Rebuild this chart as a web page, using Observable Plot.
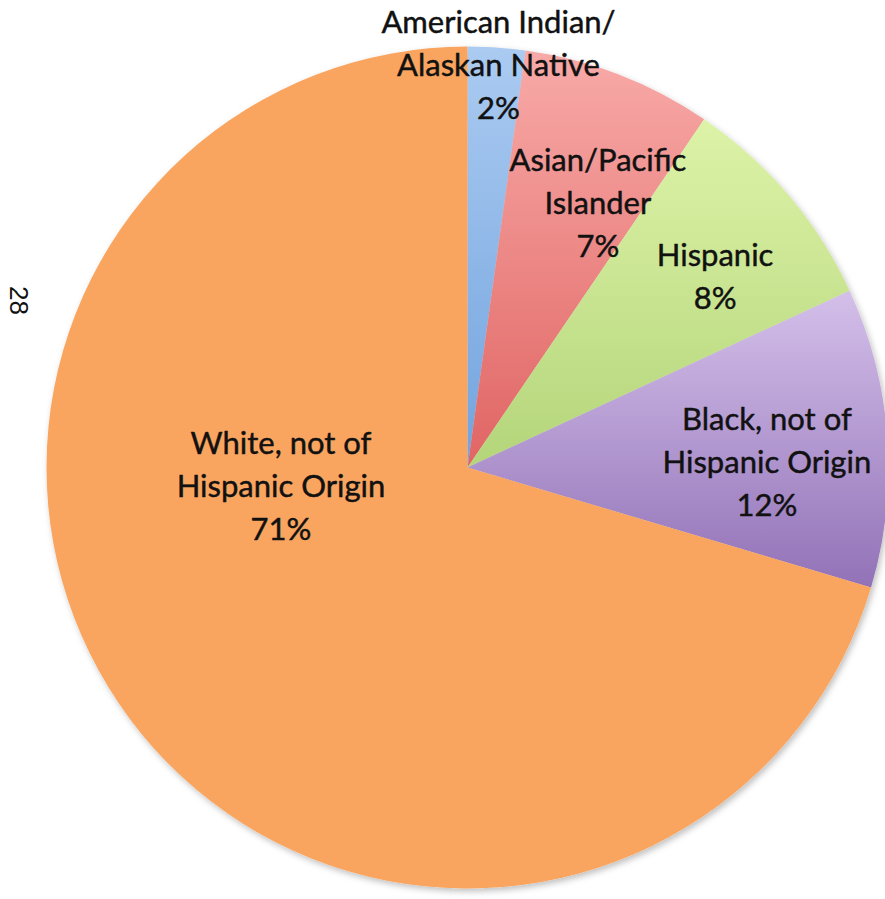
<!DOCTYPE html>
<html>
<head>
<meta charset="utf-8">
<script src="https://cdn.jsdelivr.net/npm/d3@7"></script>
<script src="https://cdn.jsdelivr.net/npm/@observablehq/plot@0.6"></script>
<style>
  html, body { margin: 0; padding: 0; background: #fff; }
  #wrap { position: relative; width: 885px; height: 899px; overflow: hidden; }
  #page { position: absolute; left: 4px; top: 285px; font-family: "Liberation Sans", Arial, sans-serif; font-size: 26px; color: #111; transform: rotate(90deg); transform-origin: center; }
</style>
</head>
<body>
<div id="wrap">
  <div id="chart"></div>
  <div id="page">28</div>
</div>
<script>
// Data
const categories = ["American Indian/\nAlaskan Native", "Asian/Pacific\nIslander", "Hispanic", "Black, not of\nHispanic Origin", "White, not of\nHispanic Origin"];
const values = [2.2, 7.3, 8.6, 11.5, 70.4];
const percentLabels = ["2%", "7%", "8%", "12%", "71%"];
const gradTop = ["#abcbf1", "#f8aaa8", "#ddf3a8", "#d4c0ea", "#f9a560"];
const gradBottom = ["#72a3de", "#e06563", "#b4d57a", "#9272b7", "#f9a560"];
// Label placement (layout): radius fraction and angular shift (deg) from slice mid-angle
const labelRadius = [0.953, 0.695, 0.738, 0.71, 0.447];
const labelShift = [0.4, 5.3, 3.0, 3.6, 30.3];

const pie = d3.pie().sort(null).value(d => d)(values);
const rows = categories.map((c, i) => {
  const mid = (pie[i].startAngle + pie[i].endAngle) / 2 + labelShift[i] * Math.PI / 180;
  return {
    i,
    text: c + "\n" + percentLabels[i],
    lx: labelRadius[i] * Math.sin(mid),
    ly: labelRadius[i] * Math.cos(mid)
  };
});

function pieMark(index, scales, values_, dims) {
  const {x, y} = scales;
  const cx = x(0), cy = y(0), r = x(1) - x(0);
  const g = d3.create("svg:g");
  const defs = g.append("defs");
  const f = defs.append("filter").attr("id", "shadow").attr("x", "-10%").attr("y", "-10%").attr("width", "120%").attr("height", "120%");
  f.append("feDropShadow").attr("dx", 2).attr("dy", 3).attr("stdDeviation", 3).attr("flood-color", "#000").attr("flood-opacity", 0.25);
  pie.forEach((p, i) => {
    const lg = defs.append("linearGradient").attr("id", "grad" + i)
      .attr("x1", 0).attr("y1", 0).attr("x2", 0).attr("y2", 1);
    lg.append("stop").attr("offset", "0%").attr("stop-color", gradTop[i]);
    lg.append("stop").attr("offset", "100%").attr("stop-color", gradBottom[i]);
  });
  const arc = d3.arc().innerRadius(0).outerRadius(r);
  const gp = g.append("g").attr("transform", `translate(${cx},${cy})`).attr("filter", "url(#shadow)");
  gp.selectAll("path").data(pie).join("path")
    .attr("d", arc)
    .attr("fill", (d, i) => `url(#grad${i})`);
  return g.node();
}

const chart = Plot.plot({
  width: 885,
  height: 899,
  margin: 0,
  x: {domain: [-1, 1], range: [46.5, 888.5], axis: null},
  y: {domain: [-1, 1], range: [888.5, 46.5], axis: null},
  style: {background: "transparent"},
  marks: [
    pieMark,
    Plot.text(rows, {
      x: "lx", y: "ly", text: "text", dy: -6,
      fontSize: 31, lineHeight: 1.39,
      fontFamily: "Lato, 'Open Sans', sans-serif",
      fill: "#111", stroke: "#111", strokeWidth: 0.45, textAnchor: "middle"
    })
  ]
});
document.getElementById("chart").appendChild(chart);
</script>
</body>
</html>
